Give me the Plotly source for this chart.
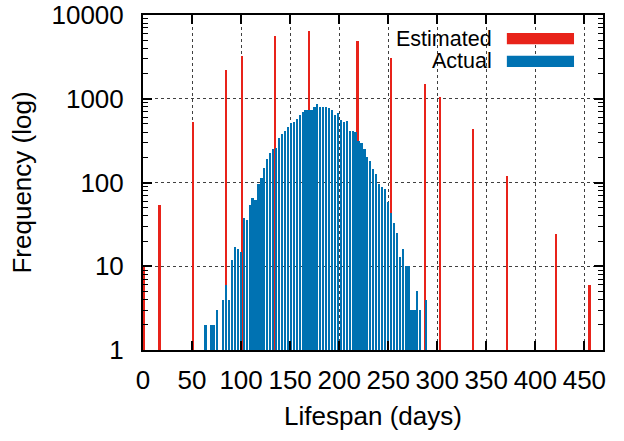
import plotly.graph_objects as go

# ---------------- data ----------------
est_days = [1.2, 17, 51, 85, 101, 135, 169.5, 219, 253, 287.4, 303, 337, 371, 421, 455.5]
est_freq = [10, 54, 525, 2180, 3230, 5630, 6460, 4880, 3030, 1490, 1036, 430, 120, 24, 6]

act_days = [64, 70, 73, 76, 82, 85, 88, 91, 94, 97, 100, 103, 106, 109, 112, 115,
            118, 121, 124, 127, 130, 133, 136, 139, 142, 145, 148, 151, 154, 157,
            160, 163, 166, 169, 172, 175, 178, 181, 184, 187, 190, 193, 196, 199,
            202, 205, 208, 211, 214, 217, 220, 223, 226, 229, 232, 235, 238, 241,
            244, 247, 250, 253, 256, 259, 262, 265, 268, 271, 274, 277, 280, 283, 289]
act_freq = [2, 2, 2, 3, 4, 6, 4, 12, 17, 16, 15, 38, 36, 54, 65, 62,
            96, 112, 147, 190, 222, 250, 259, 336, 375, 411, 454, 507, 521, 566,
            638, 687, 733, 735, 735, 802, 856, 802, 788, 802, 766, 733, 638, 680,
            556, 531, 541, 411, 411, 404, 312, 293, 250, 203, 180, 143, 128, 96,
            88, 84, 58, 43, 33, 25, 13, 16, 10, 10, 3, 3, 5, 3, 4]

x_ticks = [0, 50, 100, 150, 200, 250, 300, 350, 400, 450]
y_ticks = [1, 10, 100, 1000, 10000]
y_ticktext = ["1", "10", "100", "1000", "10000"]

series_names = ["Estimated", "Actual"]
RED = "#e8231a"
BLUE = "#0072b2"
FONT = "Liberation Sans, Arial, sans-serif"

fig = go.Figure()
fig.add_trace(go.Bar(x=est_days, y=est_freq, width=1.8, name=series_names[0],
                     marker=dict(color=RED, line=dict(width=0)), showlegend=False))
fig.add_trace(go.Bar(x=act_days, y=act_freq, width=1.75, name=series_names[1],
                     marker=dict(color=BLUE, line=dict(width=0)), showlegend=False))

# custom gnuplot-style key (text right, sample box after text)
key_rows = [(0.928, 0.946, 0.913, RED), (0.864, 0.878, 0.845, BLUE)]
for name, (ty, y1, y0, col) in zip(series_names, key_rows):
    fig.add_annotation(x=0.763, y=ty, xref="paper", yref="paper", text=name,
                       showarrow=False, xanchor="right", yanchor="middle",
                       font=dict(family=FONT, size=21.5, color="black"))
    fig.add_shape(type="rect", xref="paper", yref="paper", x0=0.791, x1=0.937,
                  y0=y0, y1=y1, fillcolor=col, line=dict(width=0), layer="above")

axis_common = dict(showline=True, linecolor="black", linewidth=2, mirror="allticks",
                   ticks="inside", tickcolor="black", tickwidth=1.5, ticklen=9,
                   showgrid=True, gridcolor="rgba(0,0,0,0.75)", griddash="dot",
                   gridwidth=1.2, zeroline=False, automargin=False,
                   ticklabeloverflow="allow",
                   tickfont=dict(family=FONT, size=26, color="black"))

fig.update_layout(
    width=624, height=441,
    margin=dict(l=143, r=21, t=15, b=91, autoexpand=False),
    paper_bgcolor="white", plot_bgcolor="white",
    barmode="overlay", bargap=0,
    font=dict(family=FONT, color="black"),
    xaxis=dict(range=[0, 469], tickmode="array", tickvals=x_ticks,
               ticklabelstandoff=6,
               title=dict(text="Lifespan (days)", standoff=13,
                          font=dict(family=FONT, size=26)),
               **axis_common),
    yaxis=dict(type="log", range=[0, 4], tickmode="array", tickvals=y_ticks,
               ticktext=y_ticktext, ticklabelstandoff=12,
               minor=dict(ticks="inside", ticklen=5, tickwidth=1.2, tickcolor="black",
                          dtick="D1", showgrid=False),
               title=dict(text="Frequency (log)", standoff=12,
                          font=dict(family=FONT, size=26)),
               **axis_common),
)

# remove the browser's default 8px body margin so the figure fills the window
fig.write_html("out.html",
               config={"displayModeBar": False},
               post_script="document.body.style.margin='0';document.body.style.overflow='hidden';")
